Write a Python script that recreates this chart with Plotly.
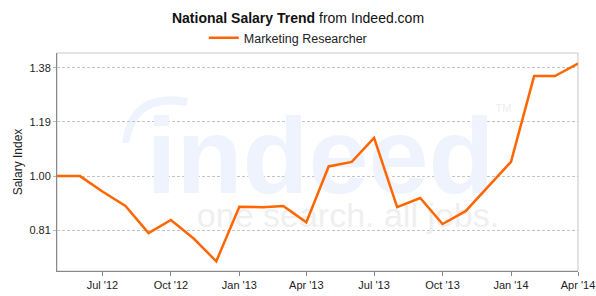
import plotly.graph_objects as go

months = ["2012-05-01", "2012-06-01", "2012-07-01", "2012-08-01", "2012-09-01", "2012-10-01",
          "2012-11-01", "2012-12-01", "2013-01-01", "2013-02-01", "2013-03-01", "2013-04-01",
          "2013-05-01", "2013-06-01", "2013-07-01", "2013-08-01", "2013-09-01", "2013-10-01",
          "2013-11-01", "2013-12-01", "2014-01-01", "2014-02-01", "2014-03-01", "2014-04-01"]
salary_index = [1.00, 1.00, 0.946, 0.895, 0.800, 0.846, 0.780, 0.701, 0.892, 0.891, 0.895, 0.838,
                1.034, 1.050, 1.134, 0.891, 0.923, 0.832, 0.877, 0.961, 1.050, 1.351, 1.351, 1.395]
series_name = "Marketing Researcher"
y_ticks = [0.81, 1.00, 1.19, 1.38]
x_ticks = ["2012-07-01", "2012-10-01", "2013-01-01", "2013-04-01",
           "2013-07-01", "2013-10-01", "2014-01-01", "2014-04-01"]
x_tick_labels = ["Jul '12", "Oct '12", "Jan '13", "Apr '13", "Jul '13", "Oct '13", "Jan '14", "Apr '14"]

FONT = "Liberation Sans, Arial, sans-serif"

fig = go.Figure()

# watermark (drawn first so the data line sits over it)
fig.add_trace(go.Scatter(
    x=["2013-04-20"], y=[1.035], mode="text", text=["indeed"],
    textfont=dict(family=FONT, size=108, color="#eef3fd", weight="bold"),
    showlegend=False, hoverinfo="skip"))
fig.add_trace(go.Scatter(
    x=["2013-05-27"], y=[0.851], mode="text", text=["one search. all jobs."],
    textfont=dict(family=FONT, size=34, color="#efefef"),
    showlegend=False, hoverinfo="skip"))
fig.add_trace(go.Scatter(
    x=["2013-12-22"], y=[1.233], mode="text", text=["TM"],
    textfont=dict(family=FONT, size=11, color="#eeeeee"),
    showlegend=False, hoverinfo="skip"))

fig.add_trace(go.Scatter(
    x=months, y=salary_index, mode="lines", name=series_name,
    line=dict(color="#ff6600", width=2.5)))

fig.update_layout(
    width=596, height=296,
    margin=dict(l=57, r=18, t=53, b=25),
    paper_bgcolor="white", plot_bgcolor="white",
    font=dict(family=FONT, size=11, color="#222"),
    title=dict(text="<b>National Salary Trend</b> from Indeed.com",
               x=0.5, xanchor="center", y=0.94, yanchor="middle",
               font=dict(family=FONT, size=14, color="#111"),
               automargin=False),
    legend=dict(orientation="h", x=0.443, xanchor="center", y=1.0, yanchor="bottom",
                font=dict(family=FONT, size=12.5, color="#222"),
                itemwidth=30, tracegroupgap=0, bgcolor="rgba(0,0,0,0)"),
    showlegend=True,
    shapes=[
        dict(type="rect", xref="paper", yref="paper", x0=0, x1=1, y0=0, y1=1,
             line=dict(color="#c8c8c8", width=1), layer="below"),
        # swoosh of the watermark logo
        dict(type="path", xref="paper", yref="paper", layer="below",
             path="M 0.1253,0.587 Q 0.137,0.84 0.2519,0.794 L 0.2481,0.757 Q 0.152,0.80 0.1387,0.587 Z",
             fillcolor="#eef3fd", line=dict(width=0)),
    ],
)

fig.update_xaxes(
    type="date", range=["2012-05-01", "2014-04-01"],
    tickvals=x_ticks, ticktext=x_tick_labels,
    showgrid=False, zeroline=False, automargin=False,
    showline=True, linecolor="#888", linewidth=1,
    ticks="outside", ticklen=4, tickcolor="#888",
    tickfont=dict(family=FONT, size=11, color="#222"))

fig.update_yaxes(
    range=[0.667, 1.432], automargin=False,
    tickvals=y_ticks, ticktext=[f"{v:.2f}" for v in y_ticks],
    showgrid=True, gridcolor="#c4c4c4", gridwidth=1, griddash="3px,2px",
    zeroline=False,
    showline=True, linecolor="#888", linewidth=1,
    ticks="outside", ticklen=3, tickcolor="#bbb",
    tickfont=dict(family=FONT, size=11, color="#222"),
    title=dict(text="Salary Index", font=dict(family=FONT, size=12, color="#222"), standoff=4))

fig.write_html("out.html")
